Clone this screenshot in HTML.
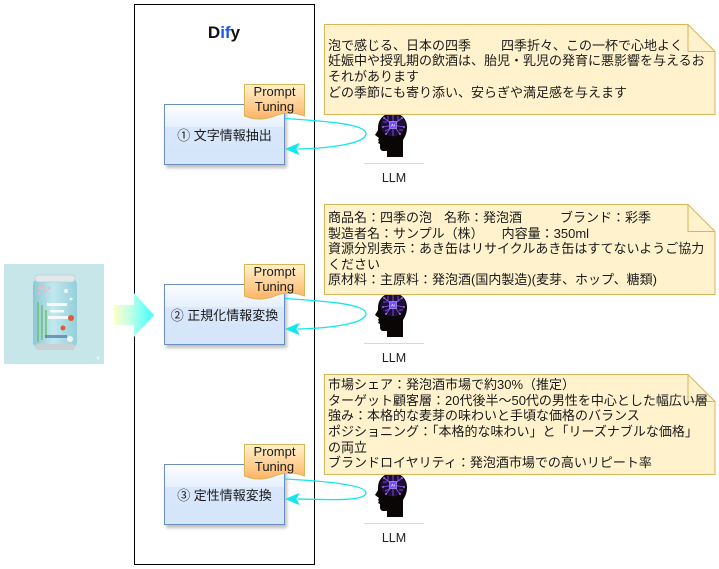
<!DOCTYPE html>
<html><head><meta charset="utf-8">
<style>
html,body{margin:0;padding:0;background:#fff;}
body{width:719px;height:569px;position:relative;overflow:hidden;font-family:"Liberation Sans","Noto Sans CJK JP",sans-serif;color:#111;}
svg{position:absolute;left:0;top:0;}
.t{position:absolute;white-space:nowrap;}
.note{position:absolute;left:328px;width:387px;display:flex;align-items:center;font-size:13px;line-height:15.6px;white-space:nowrap;color:#1a1a1a;}
.mod{position:absolute;left:164px;width:121px;height:60px;display:flex;align-items:center;justify-content:center;font-size:13px;color:#1a1a1a;}
.tag{position:absolute;left:244px;width:61px;height:30px;display:flex;flex-direction:column;align-items:center;justify-content:center;font-size:13px;line-height:15px;color:#1a1a1a;}
.llm{position:absolute;left:364px;width:60px;text-align:center;font-size:12.5px;line-height:14px;color:#222;}
.g{display:inline-block;}
</style></head>
<body>
<svg width="719" height="569" viewBox="0 0 719 569" xmlns="http://www.w3.org/2000/svg">
<defs>
  <linearGradient id="modg" x1="0" y1="0" x2="0" y2="1">
    <stop offset="0" stop-color="#dae8fc"/><stop offset="1" stop-color="#d5e5fa"/>
  </linearGradient>
  <linearGradient id="glass" x1="0" y1="0" x2="0" y2="1">
    <stop offset="0" stop-color="#ffffff" stop-opacity="0.9"/><stop offset="1" stop-color="#ffffff" stop-opacity="0.35"/>
  </linearGradient>
  <linearGradient id="tagg" x1="0" y1="0" x2="0" y2="1">
    <stop offset="0" stop-color="#fff2cc"/><stop offset="1" stop-color="#ffb366"/>
  </linearGradient>
  <linearGradient id="arrg" x1="114" y1="0" x2="154" y2="0" gradientUnits="userSpaceOnUse">
    <stop offset="0" stop-color="#ffffc8"/><stop offset="0.45" stop-color="#b8ffe8"/><stop offset="1" stop-color="#3dffff"/>
  </linearGradient>
  <linearGradient id="cang" x1="0" y1="0" x2="1" y2="0">
    <stop offset="0" stop-color="#8cc8d4"/><stop offset="0.45" stop-color="#c2e8ee"/><stop offset="1" stop-color="#94cfda"/>
  </linearGradient>
  <filter id="sh" x="-10%" y="-10%" width="130%" height="140%">
    <feDropShadow dx="2" dy="3" stdDeviation="1.5" flood-color="#000" flood-opacity="0.25"/>
  </filter>
  <g id="head">
    <path d="M18,0 C26,0 32,6 32,14 C32,20 30,24 28,27 L28,44 L12,44 L12,38 L8,38 C6,38 5,36 5,34 L5,31 L3,30 L4,28 L3,27 L4,25 L0,22 L3,17 C3,14 3,10 5,7 C8,2 13,0 18,0 Z" fill="#0a0606"/>
    <ellipse cx="18" cy="12" rx="12.5" ry="11.5" fill="#1c0e36"/>
    <g stroke="#8b5cf6" stroke-width="0.8" fill="none">
      <path d="M18,12 L9,5 M18,12 L27,5 M18,12 L8,14 M18,12 L29,14 M18,12 L11,21 M18,12 L25,21 M18,12 L18,1 M18,12 L18,23 M13,3 L13,8 M23,3 L23,8 M8,9 L12,9 M24,17 L28,17 M10,18 L14,16"/>
    </g>
    <g fill="#b28cff">
      <circle cx="9" cy="5" r="0.9"/><circle cx="27" cy="5" r="0.9"/><circle cx="8" cy="14" r="0.9"/><circle cx="29" cy="14" r="0.9"/><circle cx="11" cy="21" r="0.9"/><circle cx="25" cy="21" r="0.9"/>
    </g>
    <rect x="14.5" y="8.5" width="7" height="7" fill="#7b4dff" stroke="#c4a8ff" stroke-width="0.6"/>
    <text x="18" y="13.6" font-size="4" font-family="Liberation Sans, sans-serif" fill="#fff" text-anchor="middle">AI</text>
  </g>
</defs>

<!-- Dify container -->
<rect x="134.5" y="4.5" width="180" height="560" fill="#fff" stroke="#000" stroke-width="1"/>

<!-- can image -->
<rect x="4" y="264" width="100" height="100" fill="#c7e6ea"/>
<rect x="33" y="279" width="44" height="68" rx="5" fill="url(#cang)"/>
<rect x="35" y="275" width="40" height="7" rx="3" fill="#e2e8ea" stroke="#b6c3c7" stroke-width="0.6"/>
<rect x="35" y="344" width="40" height="6" rx="3" fill="#c8d2d5"/>
<g fill="#f0b6c4"><circle cx="40" cy="288" r="1.8"/><circle cx="45" cy="291" r="1.6"/><circle cx="43" cy="286" r="1.3"/><circle cx="49" cy="288" r="1.3"/><circle cx="38" cy="293" r="1.2"/></g>
<g stroke="#6cbf6a" stroke-width="1.4"><line x1="38" y1="302" x2="38" y2="342"/><line x1="42" y1="305" x2="42" y2="340"/><line x1="46" y1="310" x2="46" y2="338"/></g>
<g fill="#ffffff" opacity="0.85"><rect x="47" y="303" width="20" height="3"/><rect x="50" y="310" width="14" height="2.5"/><rect x="48" y="316" width="20" height="3"/><circle cx="66" cy="291" r="2"/><circle cx="71" cy="299" r="1.5"/></g>
<g fill="#e05a3c"><circle cx="71" cy="318" r="3"/><circle cx="63" cy="328" r="2.5"/></g>
<rect x="45" y="335" width="22" height="3" fill="#4a78a8" opacity="0.7"/>
<circle cx="70" cy="339" r="3" fill="#f4f4f4"/>
<circle cx="98" cy="358" r="1.5" fill="#e8f4f6"/>

<!-- modules -->
<g filter="url(#sh)">
  <rect x="164.5" y="104.5" width="120" height="60" fill="url(#modg)" stroke="#6c8ebf"/>
  <rect x="164.5" y="284.5" width="120" height="60" fill="url(#modg)" stroke="#6c8ebf"/>
  <rect x="164.5" y="464.5" width="120" height="60" fill="url(#modg)" stroke="#6c8ebf"/>
</g>
<rect x="165" y="105" width="119" height="22" fill="url(#glass)"/>
<rect x="165" y="285" width="119" height="22" fill="url(#glass)"/>
<rect x="165" y="465" width="119" height="22" fill="url(#glass)"/>

<!-- prompt tuning tags -->
<path d="M244.5,84.5 H304.5 V116 Q289.5,110 274.5,116 Q259.5,122 244.5,116 Z" fill="url(#tagg)" stroke="#d6b656"/>
<path d="M244.5,264.5 H304.5 V296 Q289.5,290 274.5,296 Q259.5,302 244.5,296 Z" fill="url(#tagg)" stroke="#d6b656"/>
<path d="M244.5,444.5 H304.5 V476 Q289.5,470 274.5,476 Q259.5,482 244.5,476 Z" fill="url(#tagg)" stroke="#d6b656"/>

<!-- heads -->
<use href="#head" x="375" y="113"/>
<use href="#head" x="375" y="293"/>
<use href="#head" x="375" y="473"/>
<g stroke="#d9d9d9" stroke-width="1">
  <line x1="364" y1="163.5" x2="424" y2="163.5"/>
  <line x1="364" y1="343.5" x2="424" y2="343.5"/>
  <line x1="364" y1="523.5" x2="424" y2="523.5"/>
</g>

<!-- cyan loops -->
<g fill="none" stroke="#14e6ee" stroke-width="1.3">
  <path d="M285,118.5 C325,121 367,124 366,134 C365,143 335,148 298,149"/>
  <path d="M285,298.5 C325,301 367,304 366,314 C365,323 335,328 298,329"/>
  <path d="M285,479 C325,481 367,485 366,493 C365,501 335,500 298,499"/>
</g>
<g fill="#14e6ee" stroke="#14e6ee" stroke-width="0.8" stroke-linejoin="round">
  <polygon points="286,149 299,143.5 296,149 299,154.5"/>
  <polygon points="286,329 299,323.5 296,329 299,334.5"/>
  <polygon points="286,499 299,493.5 296,499 299,504.5"/>
</g>

<!-- notes -->
<g fill="#fff2cc" stroke="#d6b656" stroke-width="1">
  <path d="M324.5,24.5 H688 L715,51.5 V114.5 H324.5 Z"/>
  <path d="M688,24.5 V51.5 H715" fill="none"/>
  <path d="M324.5,204.5 H688 L715,231.5 V294.5 H324.5 Z"/>
  <path d="M688,204.5 V231.5 H715" fill="none"/>
  <path d="M324.5,374.5 H688 L715,401.5 V474.5 H324.5 Z"/>
  <path d="M688,374.5 V401.5 H715" fill="none"/>
</g>

<!-- big gradient arrow -->
<polygon points="114,305 134,305 134,293 154,315 134,337 134,325 114,325" fill="url(#arrg)"/>
</svg>

<!-- Dify title -->
<div class="t" style="left:190px;top:22px;width:68px;text-align:center;font-size:17px;font-weight:bold;line-height:22px;color:#111;">D<span style="color:#1a56f0;">if</span>y</div>

<!-- module labels -->
<div class="mod" style="top:104px;">① 文字情報抽出</div>
<div class="mod" style="top:284px;">② 正規化情報変換</div>
<div class="mod" style="top:464px;">③ 定性情報変換</div>

<!-- tags -->
<div class="tag" style="top:83.7px;"><div>Prompt</div><div>Tuning</div></div>
<div class="tag" style="top:263.7px;"><div>Prompt</div><div>Tuning</div></div>
<div class="tag" style="top:443.7px;"><div>Prompt</div><div>Tuning</div></div>

<!-- LLM labels -->
<div class="llm" style="top:170.7px;">LLM</div>
<div class="llm" style="top:350.7px;">LLM</div>
<div class="llm" style="top:530.7px;">LLM</div>

<!-- notes text -->
<div class="note" style="top:24px;height:90px;"><div>泡で感じる、日本の四季<span class="g" style="width:30px"></span>四季折々、この一杯で心地よく<br>妊娠中や授乳期の飲酒は、胎児・乳児の発育に悪影響を与えるお<br>それがあります<br>どの季節にも寄り添い、安らぎや満足感を与えます</div></div>

<div class="note" style="top:204px;height:90px;"><div>商品名：四季の泡<span class="g" style="width:12px"></span>名称：発泡酒<span class="g" style="width:38px"></span>ブランド：彩季<br>製造者名：サンプル（株）<span class="g" style="width:18px"></span>内容量：350ml<br>資源分別表示：あき缶はリサイクルあき缶はすてないようご協力<br>ください<br>原材料：主原料：発泡酒(国内製造)(麦芽、ホップ、糖類)</div></div>

<div class="note" style="top:374px;height:100px;"><div>市場シェア：発泡酒市場で約30%（推定）<br>ターゲット顧客層：20代後半～50代の男性を中心とした幅広い層<br>強み：本格的な麦芽の味わいと手頃な価格のバランス<br>ポジショニング：「本格的な味わい」と「リーズナブルな価格」<br>の両立<br>ブランドロイヤリティ：発泡酒市場での高いリピート率</div></div>
</body></html>
